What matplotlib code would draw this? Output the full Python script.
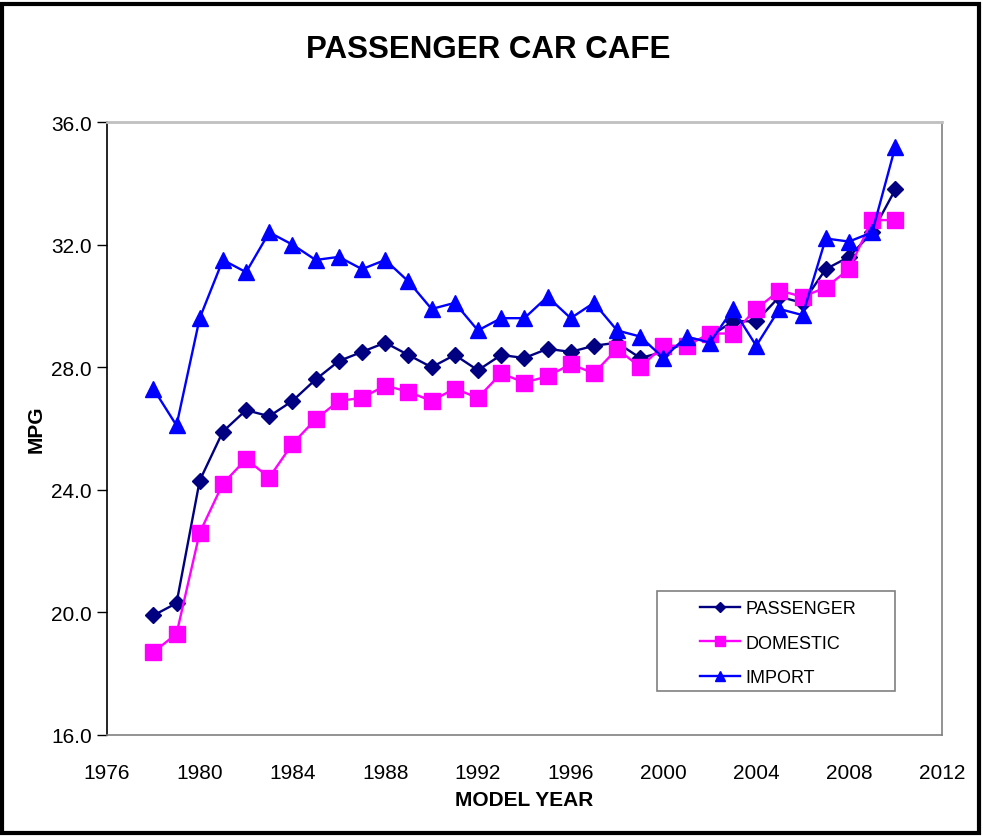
import matplotlib
matplotlib.use('Agg')
import matplotlib.pyplot as plt
from matplotlib.patches import Rectangle

years = list(range(1978, 2011))
passenger = [19.9, 20.3, 24.3, 25.9, 26.6, 26.4, 26.9, 27.6, 28.2, 28.5, 28.8, 28.4, 28.0,
             28.4, 27.9, 28.4, 28.3, 28.6, 28.5, 28.7, 28.8, 28.3, 28.5, 28.8, 29.0, 29.5,
             29.5, 30.3, 30.1, 31.2, 31.6, 32.4, 33.8]
domestic = [18.7, 19.3, 22.6, 24.2, 25.0, 24.4, 25.5, 26.3, 26.9, 27.0, 27.4, 27.2, 26.9,
            27.3, 27.0, 27.8, 27.5, 27.7, 28.1, 27.8, 28.6, 28.0, 28.7, 28.7, 29.1, 29.1,
            29.9, 30.5, 30.3, 30.6, 31.2, 32.8, 32.8]
imported = [27.3, 26.1, 29.6, 31.5, 31.1, 32.4, 32.0, 31.5, 31.6, 31.2, 31.5, 30.8, 29.9,
            30.1, 29.2, 29.6, 29.6, 30.3, 29.6, 30.1, 29.2, 29.0, 28.3, 29.0, 28.8, 29.9,
            28.7, 29.9, 29.7, 32.2, 32.1, 32.4, 35.2]

x_ticks = [1976, 1980, 1984, 1988, 1992, 1996, 2000, 2004, 2008, 2012]
y_ticks = [16, 20, 24, 28, 32, 36]

plt.rcParams['font.family'] = ['Liberation Sans', 'DejaVu Sans']

fig = plt.figure(figsize=(9.83, 8.37), dpi=100)
ax = fig.add_axes([0.1088, 0.1207, 0.8492, 0.7323])

ax.plot(years, passenger, color='#000080', marker='D', markersize=8.5, linewidth=1.7, label='PASSENGER')
ax.plot(years, domestic, color='#FF00FF', marker='s', markersize=11, linewidth=1.7, label='DOMESTIC')
ax.plot(years, imported, color='#0000FF', marker='^', markersize=12, linewidth=1.7, label='IMPORT')

ax.set_xlim(1976, 2012)
ax.set_ylim(16, 36)
ax.set_xticks(x_ticks)
ax.set_yticks(y_ticks)
ax.set_yticklabels([f'{v:.1f}' for v in y_ticks], fontsize=15)
ax.set_xticklabels([str(v) for v in x_ticks], fontsize=15)
ax.tick_params(axis='x', length=0, pad=20)
ax.tick_params(axis='y', length=7, width=1, pad=4)

ax.spines['left'].set_color('black')
ax.spines['bottom'].set_color('#808080')
ax.spines['top'].set_color('#c0c0c0')
ax.spines['right'].set_color('#808080')
for s in ax.spines.values():
    s.set_linewidth(1.2)
ax.spines['top'].set_linewidth(2)

ax.set_xlabel('MODEL YEAR', fontsize=15, fontweight='bold', labelpad=6)
ax.set_ylabel('MPG', fontsize=15, fontweight='bold', labelpad=4)
fig.text(0.497, 0.940, 'PASSENGER CAR CAFE', ha='center', va='center', fontsize=22.5, fontweight='bold')

# legend box drawn separately, entries placed inside it
ax.add_patch(Rectangle((0.6587, 0.0718), 0.2853, 0.1632, transform=ax.transAxes,
                       fill=False, edgecolor='#808080', linewidth=1.2, zorder=5))
leg = ax.legend(loc='center left', bbox_to_anchor=(0.711, 0.150), borderaxespad=0,
                borderpad=0, fontsize=13, frameon=False, handlelength=2.2,
                handletextpad=0.3, labelspacing=0.98, markerscale=0.6)

fig.add_artist(Rectangle((0.002, 0.004), 0.994, 0.99, transform=fig.transFigure,
                         fill=False, edgecolor='black', linewidth=3))

fig.savefig('out.png', dpi=100)
